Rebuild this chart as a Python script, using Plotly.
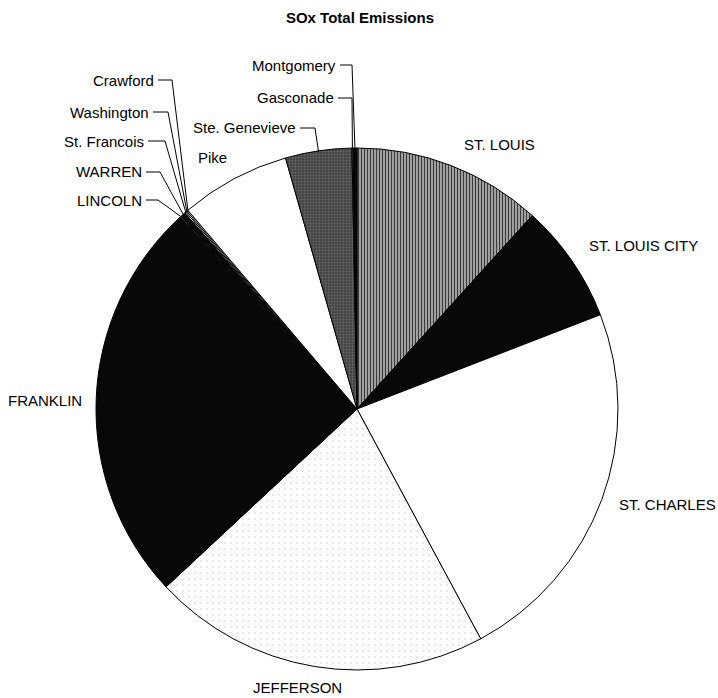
import math
import plotly.graph_objects as go

W, H = 718, 698

# counties in clockwise order starting at 12 o'clock
counties = ["ST. LOUIS", "ST. LOUIS CITY", "ST. CHARLES", "JEFFERSON", "FRANKLIN",
            "LINCOLN", "WARREN", "St. Francois", "Washington", "Crawford",
            "Pike", "Ste. Genevieve", "Gasconade", "Montgomery"]
# share of total SOx emissions, percent
sox_pct = [11.7, 7.4, 23.0, 20.9, 25.1,
           0.05, 0.3, 0.08, 0.08, 0.08,
           6.8, 4.1, 0.06, 0.25]

# fill styles (black & white print look)
fill = ["#b4b4b4", "#080808", "white", "#fcfcfc", "#080808",
        "white", "#080808", "white", "white", "white",
        "white", "#444444", "white", "#080808"]
pat_shape = ["|", "", "", ".", "", "", "", "", "", "", "", ".", "", ""]
pat_fg = ["#3a3a3a", "black", "black", "#e2e2e2", "black", "black", "black",
          "black", "black", "black", "black", "#6a6a6a", "black", "black"]
pat_size = [3, 8, 8, 6, 8, 8, 8, 8, 8, 8, 8, 3, 8, 8]
pat_sol = [0.45, 0.3, 0.3, 0.08, 0.3, 0.3, 0.3, 0.3, 0.3, 0.3, 0.3, 0.3, 0.3, 0.3]

# pie placement in pixels
cx, cy, r = 357, 409, 261

# label placement: x, y (pixels), anchor, elbow x of leader line
label_pos = {
    "ST. LOUIS": (462, 144, "left", None),
    "ST. LOUIS CITY": (587, 245, "left", None),
    "ST. CHARLES": (617, 504, "left", None),
    "JEFFERSON": (297, 687, "center", None),
    "FRANKLIN": (84, 400, "right", None),
    "LINCOLN": (144, 200, "right", 158),
    "WARREN": (144, 172, "right", 160),
    "St. Francois": (146, 141, "right", 165),
    "Washington": (151, 112, "right", 168),
    "Crawford": (156, 80, "right", 172),
    "Pike": (196, 157, "left", None),
    "Ste. Genevieve": (298, 128, "right", 315),
    "Gasconade": (336, 98, "right", 352),
    "Montgomery": (338, 65, "right", 352),
}

FONT = "Arial, Liberation Sans, sans-serif"


def px(x):
    return x / W


def py(y):
    return 1 - y / H


fig = go.Figure()
fig.add_trace(go.Pie(
    labels=counties, values=sox_pct, sort=False, direction="clockwise", rotation=0,
    textinfo="none", hoverinfo="label+percent",
    domain=dict(x=[px(cx - r), px(cx + r)], y=[py(cy + r), py(cy - r)]),
    marker=dict(colors=fill, line=dict(color="black", width=1),
                pattern=dict(shape=pat_shape, fgcolor=pat_fg, bgcolor=fill,
                             size=pat_size, solidity=pat_sol)),
))

## slice mid angles for leader lines
total = sum(sox_pct)
acc = 0
mid = {}
for name, v in zip(counties, sox_pct):
    mid[name] = math.radians((acc + v / 2) / total * 360)
    acc += v

annotations = []
shapes = []
for name in counties:
    x, y, anc, elbow = label_pos[name]
    annotations.append(dict(x=px(x), y=py(y), xref="paper", yref="paper", text=name,
                            showarrow=False, xanchor=anc, yanchor="middle",
                            font=dict(family=FONT, size=15, color="black")))
    if elbow is not None:
        a = mid[name]
        ex = cx + (r - 1) * math.sin(a)
        ey = cy - (r - 1) * math.cos(a)
        path = "M {} {} L {} {} L {} {}".format(px(x + 2), py(y), px(elbow), py(y), px(ex), py(ey))
        shapes.append(dict(type="path", path=path, xref="paper", yref="paper",
                           line=dict(color="black", width=1)))

fig.update_layout(
    width=W, height=H, margin=dict(l=0, r=0, t=0, b=0),
    paper_bgcolor="white", plot_bgcolor="white", showlegend=False,
    title=dict(text="<b>SOx Total Emissions</b>", x=px(360), y=py(18), xanchor="center",
               yanchor="middle", font=dict(family=FONT, size=15, color="black")),
    annotations=annotations, shapes=shapes,
)

# page body has a default 8px margin, drop it so the figure fills the window
fig.write_html("out.html", config={"displayModeBar": False},
               post_script="document.body.style.margin='0';")
